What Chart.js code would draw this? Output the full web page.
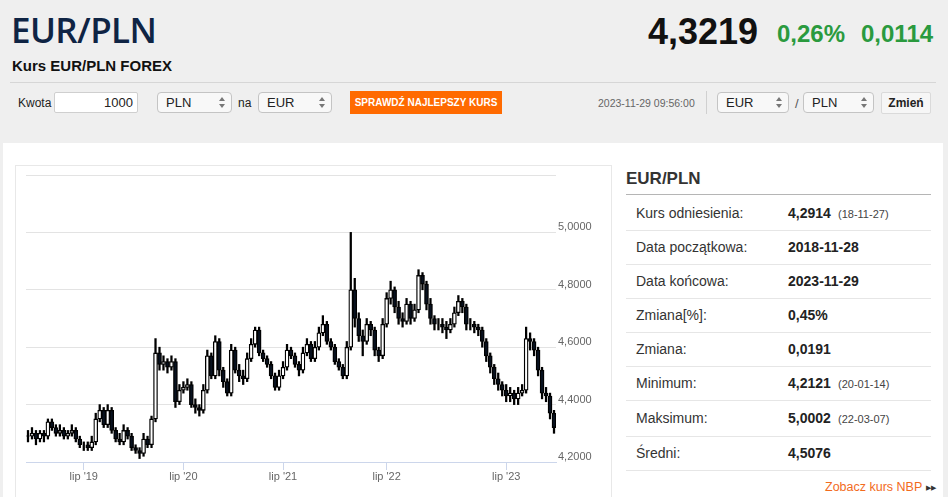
<!DOCTYPE html>
<html>
<head>
<meta charset="utf-8">
<script src="https://cdn.jsdelivr.net/npm/chart.js@4.4.0/dist/chart.umd.min.js"></script>
<style>
  html, body { margin: 0; padding: 0; }
  body { width: 948px; height: 497px; background: #efefef; position: relative; overflow: hidden;
         font-family: "Liberation Sans", Arial, sans-serif; color: #222; }
  .abs { position: absolute; white-space: nowrap; }
  .title { left: 11px; top: 6px; font-family: "Open Sans", sans-serif; font-weight: 600; font-size: 35px; color: #0f2444; letter-spacing: -0.6px; }
  .sub { left: 12px; top: 57px; font-weight: bold; font-size: 15px; color: #111; }
  .price { left: 648px; top: 11px; font-weight: bold; font-size: 36px; color: #111; }
  .chg { top: 20px; font-weight: bold; font-size: 24px; color: #2a9a3e; }
  .hr { left: 10px; top: 82px; width: 926px; height: 1px; background: #d6d6d6; }
  .lbl { font-size: 12px; color: #222; top: 96px; }
  .box { top: 92px; height: 19px; border: 1px solid #c4c4c4; border-radius: 4px; background: #f8f8f8;
         font-size: 13px; line-height: 19px; padding-left: 8px; box-sizing: content-box; }
  .arr { position: absolute; right: 6px; top: 4px; width: 6px; height: 11px; }
  .arr:before, .arr:after { content: ""; position: absolute; left: 0; border-left: 3px solid transparent; border-right: 3px solid transparent; }
  .arr:before { top: 0; border-bottom: 4px solid #777; }
  .arr:after { bottom: 0; border-top: 4px solid #777; }
  .panel { left: 3px; top: 143px; width: 940px; height: 360px; background: #fff; }
  .frame { left: 15px; top: 165px; width: 595px; height: 340px; border: 1px solid #e8e8e8; border-bottom: none; background: #fff; }
  #wrap { position: absolute; left: 16px; top: 166px; width: 594px; height: 331px; }
  .side-h { left: 626px; top: 169px; font-weight: bold; font-size: 17px; color: #333; }
  .side-line { left: 626px; width: 305px; height: 1px; background: #e6e6e6; }
  .rl { left: 636px; font-size: 14px; color: #333; }
  .rv { left: 788px; font-size: 14px; font-weight: bold; color: #222; }
  .rd { left: 838px; font-size: 11px; color: #444; }
</style>
</head>
<body>
<div class="abs title">EUR/PLN</div>
<div class="abs sub">Kurs EUR/PLN FOREX</div>
<div class="abs price">4,3219</div>
<div class="abs chg" style="left:777px">0,26%</div>
<div class="abs chg" style="left:861px">0,0114</div>
<div class="abs hr"></div>

<div class="abs lbl" style="left:18px">Kwota</div>
<div class="abs box" style="left:54px;width:78px;padding-left:0;padding-right:4px;text-align:right;background:#fff;border-radius:2px;border-color:#cfcfcf">1000</div>
<div class="abs box" style="left:157px;width:65px">PLN<span class="arr"></span></div>
<div class="abs lbl" style="left:238px">na</div>
<div class="abs box" style="left:258px;width:64px">EUR<span class="arr"></span></div>
<div class="abs" style="left:350px;top:91px;width:152px;height:23px;background:#ff6a00;color:#fff;font-weight:bold;font-size:10px;line-height:23px;text-align:center">SPRAWDŹ NAJLEPSZY KURS</div>
<div class="abs" style="left:598px;top:97px;font-size:10.5px;color:#666">2023-11-29 09:56:00</div>
<div class="abs" style="left:706px;top:91px;width:1px;height:23px;background:#d0d0d0"></div>
<div class="abs box" style="left:717px;width:62px">EUR<span class="arr"></span></div>
<div class="abs lbl" style="left:795px;font-size:13px;color:#555">/</div>
<div class="abs box" style="left:803px;width:61px">PLN<span class="arr"></span></div>
<div class="abs" style="left:881px;top:92px;width:48px;height:20px;border:1px solid #dadada;background:#f6f6f6;font-weight:bold;font-size:12px;line-height:20px;text-align:center;border-radius:2px">Zmień</div>

<div class="abs panel"></div>
<div class="abs frame"></div>
<div id="wrap"><canvas id="fxChart"></canvas></div>

<div class="abs side-h">EUR/PLN</div>
<div class="abs" style="left:626px;top:194px;width:305px;height:1px;background:#b5b5b5"></div>
<div class="abs rl" style="top:205px">Kurs odniesienia:</div>
<div class="abs rv" style="top:205px">4,2914</div><div class="abs rd" style="top:208px">(18-11-27)</div>
<div class="abs side-line" style="top:230px"></div>
<div class="abs rl" style="top:239px">Data początkowa:</div>
<div class="abs rv" style="top:239px">2018-11-28</div>
<div class="abs side-line" style="top:264px"></div>
<div class="abs rl" style="top:273px">Data końcowa:</div>
<div class="abs rv" style="top:273px">2023-11-29</div>
<div class="abs side-line" style="top:298px"></div>
<div class="abs rl" style="top:307px">Zmiana[%]:</div>
<div class="abs rv" style="top:307px">0,45%</div>
<div class="abs side-line" style="top:332px"></div>
<div class="abs rl" style="top:341px">Zmiana:</div>
<div class="abs rv" style="top:341px">0,0191</div>
<div class="abs side-line" style="top:366px"></div>
<div class="abs rl" style="top:375px">Minimum:</div>
<div class="abs rv" style="top:375px">4,2121</div><div class="abs rd" style="top:378px">(20-01-14)</div>
<div class="abs side-line" style="top:400px"></div>
<div class="abs rl" style="top:410px">Maksimum:</div>
<div class="abs rv" style="top:410px">5,0002</div><div class="abs rd" style="top:413px">(22-03-07)</div>
<div class="abs side-line" style="top:436px"></div>
<div class="abs rl" style="top:445px">Średni:</div>
<div class="abs rv" style="top:445px">4,5076</div>
<div class="abs side-line" style="top:470px"></div>
<div class="abs" style="left:825px;top:480px;font-size:12.5px;color:#f26b1d">Zobacz kurs NBP <span style="color:#333;font-size:7px;vertical-align:1px">&#9654;&#9654;</span></div>

<script>
/* EUR/PLN candles (first open = reference rate) */
const firstOpen = 4.2914;

const close = [
  4.29, 4.30, 4.28, 4.30, 4.29, 4.34, 4.32, 4.30, 4.31, 4.29,
  4.30, 4.31, 4.28, 4.26, 4.26, 4.25, 4.27, 4.35, 4.38, 4.33,
  4.38, 4.31, 4.28, 4.27, 4.31, 4.29, 4.25, 4.24, 4.23, 4.28,
  4.26, 4.35, 4.58, 4.54, 4.55, 4.53, 4.55, 4.41, 4.45, 4.46,
  4.47, 4.40, 4.39, 4.38, 4.45, 4.57, 4.50, 4.62, 4.52, 4.48,
  4.44, 4.59, 4.52, 4.50, 4.49, 4.56, 4.61, 4.66, 4.58, 4.56,
  4.54, 4.50, 4.46, 4.50, 4.53, 4.59, 4.57, 4.54, 4.52, 4.58,
  4.61, 4.56, 4.60, 4.65, 4.68, 4.62, 4.60, 4.55, 4.53, 4.50,
  4.60, 4.80, 4.70, 4.64, 4.62, 4.68, 4.66, 4.59, 4.57, 4.68,
  4.77, 4.80, 4.74, 4.70, 4.69, 4.75, 4.70, 4.73, 4.85, 4.82,
  4.75, 4.70, 4.68, 4.68, 4.67, 4.66, 4.68, 4.72, 4.76, 4.74,
  4.68, 4.68, 4.67, 4.66, 4.62, 4.57, 4.53, 4.49, 4.47, 4.45,
  4.43, 4.44, 4.42, 4.44, 4.45, 4.63, 4.62, 4.59, 4.52, 4.44,
  4.43, 4.37, 4.32
];

const high = [
  4.31, 4.32, 4.31, 4.31, 4.31, 4.35, 4.35, 4.33, 4.33, 4.32,
  4.31, 4.33, 4.32, 4.29, 4.27, 4.27, 4.29, 4.37, 4.40, 4.39,
  4.40, 4.39, 4.32, 4.30, 4.33, 4.32, 4.30, 4.26, 4.25, 4.30,
  4.29, 4.36, 4.63, 4.60, 4.57, 4.56, 4.57, 4.56, 4.47, 4.48,
  4.49, 4.48, 4.42, 4.40, 4.47, 4.59, 4.58, 4.64, 4.63, 4.53,
  4.49, 4.61, 4.60, 4.54, 4.52, 4.58, 4.63, 4.67, 4.67, 4.59,
  4.57, 4.55, 4.51, 4.52, 4.55, 4.61, 4.60, 4.58, 4.55, 4.60,
  4.63, 4.62, 4.62, 4.67, 4.71, 4.69, 4.63, 4.61, 4.56, 4.54,
  4.62, 5.00, 4.84, 4.72, 4.66, 4.70, 4.69, 4.67, 4.60, 4.70,
  4.79, 4.83, 4.81, 4.76, 4.72, 4.77, 4.76, 4.75, 4.87, 4.86,
  4.83, 4.77, 4.71, 4.70, 4.70, 4.69, 4.70, 4.74, 4.78, 4.77,
  4.75, 4.70, 4.69, 4.68, 4.67, 4.63, 4.58, 4.54, 4.51, 4.48,
  4.47, 4.46, 4.45, 4.46, 4.47, 4.67, 4.65, 4.63, 4.60, 4.53,
  4.46, 4.44, 4.38
];

const low = [
  4.27, 4.28, 4.26, 4.27, 4.27, 4.28, 4.31, 4.29, 4.29, 4.28,
  4.28, 4.29, 4.27, 4.25, 4.24, 4.24, 4.24, 4.26, 4.34, 4.32,
  4.32, 4.30, 4.27, 4.26, 4.26, 4.28, 4.24, 4.23, 4.212, 4.22,
  4.25, 4.25, 4.34, 4.52, 4.52, 4.51, 4.52, 4.39, 4.40, 4.44,
  4.45, 4.39, 4.37, 4.36, 4.37, 4.44, 4.49, 4.49, 4.50, 4.46,
  4.43, 4.43, 4.51, 4.48, 4.47, 4.48, 4.55, 4.60, 4.57, 4.55,
  4.53, 4.49, 4.45, 4.45, 4.49, 4.52, 4.56, 4.53, 4.50, 4.51,
  4.57, 4.55, 4.55, 4.59, 4.64, 4.61, 4.59, 4.54, 4.52, 4.49,
  4.49, 4.59, 4.67, 4.62, 4.57, 4.61, 4.64, 4.57, 4.55, 4.56,
  4.67, 4.75, 4.72, 4.68, 4.67, 4.68, 4.68, 4.69, 4.72, 4.80,
  4.73, 4.68, 4.66, 4.66, 4.65, 4.63, 4.65, 4.67, 4.71, 4.72,
  4.66, 4.66, 4.65, 4.64, 4.60, 4.55, 4.51, 4.47, 4.45, 4.43,
  4.41, 4.41, 4.40, 4.40, 4.43, 4.44, 4.59, 4.57, 4.50, 4.42,
  4.41, 4.35, 4.30
];

// x axis labels (July of each year) sit on these candle indices
const tickIdx = [14, 39, 64, 90, 120];
const tickText = ["lip '19", "lip '20", "lip '21", "lip '22", "lip '23"];

const yMin = 4.2, yMax = 5.2, yStep = 0.2;

const open = close.map((c, i) => i === 0 ? firstOpen : close[i - 1]);
const labels = close.map((c, i) => {
  const k = tickIdx.indexOf(i);
  return k >= 0 ? tickText[k] : '';
});

const bodies = close.map((c, i) => [open[i], c]);
const wicks = close.map((c, i) => [low[i], high[i]]);
const upColor = '#ffffff';
const downColor = '#08111f';

const ctx = document.getElementById('fxChart').getContext('2d');
new Chart(ctx, {
  type: 'bar',
  data: {
    labels: labels,
    datasets: [
      {
        label: 'body',
        data: bodies,
        grouped: false,
        order: 0,
        barThickness: 4,
        backgroundColor: close.map((c, i) => c >= open[i] ? upColor : downColor),
        borderColor: '#000000',
        borderWidth: 1.3,
        borderSkipped: false
      },
      {
        label: 'wick',
        data: wicks,
        grouped: false,
        order: 1,
        barThickness: 1.6,
        backgroundColor: '#000000',
        borderWidth: 0
      }
    ]
  },
  options: {
    responsive: true,
    maintainAspectRatio: false,
    animation: false,
    layout: { padding: { left: 10, top: 9, right: 0, bottom: 0 } },
    plugins: {
      legend: { display: false },
      tooltip: { enabled: false }
    },
    scales: {
      x: {
        offset: true,
        grid: {
          offset: false,
          drawOnChartArea: false,
          tickLength: 8,
          color: (c) => (c.tick && c.tick.label) ? '#ccd6eb' : 'rgba(0,0,0,0)'
        },
        border: { color: '#ccd6eb', width: 1 },
        ticks: {
          autoSkip: false,
          maxRotation: 0,
          padding: 0,
          color: '#666666',
          font: { family: "'Liberation Sans', Arial, sans-serif", size: 11 }
        },
        afterFit: (s) => { s.height = 35; }
      },
      y: {
        position: 'right',
        min: yMin,
        max: yMax,
        grid: { color: '#e3e3e3', drawTicks: false },
        border: { display: false },
        ticks: {
          stepSize: yStep,
          padding: 2,
          labelOffset: -5,
          color: '#666666',
          font: { family: "'Liberation Sans', Arial, sans-serif", size: 11 },
          callback: (v) => v >= yMax - 1e-9 ? '' : v.toFixed(4).replace('.', ',')
        },
        afterFit: (s) => { s.width = 54; }
      }
    }
  }
});
</script>
</body>
</html>
